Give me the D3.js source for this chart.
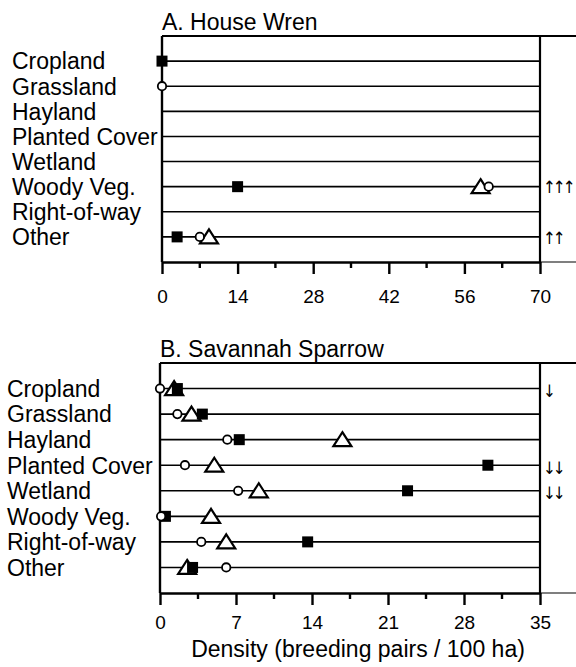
<!DOCTYPE html>
<html>
<head>
<meta charset="utf-8">
<script src="https://cdn.jsdelivr.net/npm/d3@7"></script>
<style>
  body { margin: 0; background: #fff; }
  text { font-family: "Liberation Sans", Arial, sans-serif; fill: #000; }
</style>
</head>
<body>
<svg id="chart" width="576" height="667"></svg>
<script>
const habitats = ["Cropland", "Grassland", "Hayland", "Planted Cover", "Wetland", "Woody Veg.", "Right-of-way", "Other"];

// House Wren densities (null = not plotted)
const wrenSquare = [0, null, null, null, null, 14, null, 2.8];
const wrenCircle = [null, 0, null, null, null, 60.5, null, 7];
const wrenTriangle = [null, null, null, null, null, 59, null, 8.7];
const wrenTrend = ["", "", "", "", "", "\u2191\u2191\u2191", "", "\u2191\u2191"];
const wrenTicks = [0, 14, 28, 42, 56, 70];

// Savannah Sparrow densities
const sparrowSquare = [1.6, 3.9, 7.3, 30.2, 22.8, 0.5, 13.6, 3.0];
const sparrowCircle = [0, 1.6, 6.2, 2.3, 7.2, 0.1, 3.8, 6.1];
const sparrowTriangle = [1.3, 2.9, 16.8, 5.0, 9.1, 4.7, 6.1, 2.5];
const sparrowTrend = ["\u2193", "", "", "\u2193\u2193", "\u2193\u2193", "", "", ""];
const sparrowTicks = [0, 7, 14, 21, 28, 35];

const svg = d3.select("#chart");

function panel(opt) {
  const x = d3.scaleLinear().domain([0, opt.max]).range([opt.left, 540]);
  const y = d3.scalePoint().domain(habitats).range([opt.top, opt.bottom]).padding(1);
  const g = svg.append("g");

  g.append("text")
    .attr("x", opt.left)
    .attr("y", opt.top - 6)
    .style("font-size", "23px")
    .text(opt.title);

  // row labels
  g.selectAll(".lab")
    .data(habitats)
    .enter()
    .append("text")
    .attr("x", opt.labelX)
    .attr("y", d => y(d))
    .attr("dy", "0.36em")
    .style("font-size", "23px")
    .text(d => d);

  // row lines
  g.selectAll(".row")
    .data(habitats)
    .enter()
    .append("line")
    .attr("x1", opt.left)
    .attr("x2", 540)
    .attr("y1", d => y(d))
    .attr("y2", d => y(d))
    .attr("stroke", "#000")
    .attr("stroke-width", 1.6);

  // frame
  g.append("line").attr("x1", opt.left).attr("x2", 576).attr("y1", opt.top).attr("y2", opt.top)
    .attr("stroke", "#000").attr("stroke-width", 2.2);
  g.append("line").attr("x1", 540).attr("x2", 540).attr("y1", opt.top).attr("y2", opt.bottom)
    .attr("stroke", "#000").attr("stroke-width", 2.2);
  g.append("line").attr("x1", opt.left).attr("x2", opt.left).attr("y1", opt.top).attr("y2", opt.bottom)
    .attr("stroke", "#000").attr("stroke-width", 2.4);
  g.append("line").attr("x1", 540).attr("x2", 576).attr("y1", opt.bottom).attr("y2", opt.bottom)
    .attr("stroke", "#000").attr("stroke-width", 1.2);

  // minor ticks
  const step = opt.ticks[1] - opt.ticks[0];
  const minor = opt.ticks.slice(0, -1).map(t => t + step / 2);
  g.selectAll(".minor")
    .data(minor)
    .enter()
    .append("line")
    .attr("x1", d => x(d))
    .attr("x2", d => x(d))
    .attr("y1", opt.bottom)
    .attr("y2", opt.bottom + 6)
    .attr("stroke", "#000")
    .attr("stroke-width", 2.4);

  const axis = d3.axisBottom(x)
    .tickValues(opt.ticks)
    .tickFormat(d3.format("d"))
    .tickSize(12)
    .tickPadding(opt.tickPad)
    .tickSizeOuter(0);
  const ax = g.append("g").attr("transform", "translate(0," + opt.bottom + ")").call(axis);
  ax.select(".domain").attr("stroke-width", 2.4);
  ax.selectAll(".tick line").attr("stroke-width", 2.4);
  ax.selectAll(".tick text")
    .style("font-size", "19px")
    .style("font-family", "Liberation Sans, Arial, sans-serif");

  // markers: triangles, then squares, then circles
  const tri = habitats.map((h, i) => ({ h, v: opt.triangle[i] })).filter(d => d.v != null);
  const sq = habitats.map((h, i) => ({ h, v: opt.square[i] })).filter(d => d.v != null);
  const cir = habitats.map((h, i) => ({ h, v: opt.circle[i] })).filter(d => d.v != null);

  g.selectAll(".tri")
    .data(tri)
    .enter()
    .append("path")
    .attr("d", "M0,-7.5L9,6.5L-9,6.5Z")
    .attr("transform", d => "translate(" + x(d.v) + "," + y(d.h) + ")")
    .attr("fill", "#fff")
    .attr("stroke", "#000")
    .attr("stroke-width", 2.2)
    .attr("stroke-linejoin", "miter");

  g.selectAll(".sq")
    .data(sq)
    .enter()
    .append("rect")
    .attr("x", d => x(d.v) - 5.5)
    .attr("y", d => y(d.h) - 5.5)
    .attr("width", 11)
    .attr("height", 11)
    .attr("fill", "#000");

  g.selectAll(".cir")
    .data(cir)
    .enter()
    .append("circle")
    .attr("cx", d => x(d.v))
    .attr("cy", d => y(d.h))
    .attr("r", 4.2)
    .attr("fill", "#fff")
    .attr("stroke", "#000")
    .attr("stroke-width", 1.8);

  // trend arrows
  g.selectAll(".trend")
    .data(habitats.map((h, i) => ({ h, t: opt.trend[i] })).filter(d => d.t))
    .enter()
    .append("text")
    .attr("x", 543)
    .attr("y", d => y(d.h))
    .attr("dy", opt.arrowDy)
    .style("font-size", "17px")
    .style("font-family", "DejaVu Sans Condensed, DejaVu Sans, sans-serif")
    .style("letter-spacing", "-3px")
    .text(d => d.t);
}

panel({
  title: "A. House Wren", max: 70, ticks: wrenTicks, left: 162, top: 36, bottom: 262,
  labelX: 12, tickPad: 16, arrowDy: "0.4em",
  square: wrenSquare, circle: wrenCircle, triangle: wrenTriangle, trend: wrenTrend
});

panel({
  title: "B. Savannah Sparrow", max: 35, ticks: sparrowTicks, left: 160, top: 363, bottom: 593,
  labelX: 7, tickPad: 11, arrowDy: "0.5em",
  square: sparrowSquare, circle: sparrowCircle, triangle: sparrowTriangle, trend: sparrowTrend
});

svg.append("text")
  .attr("x", 358)
  .attr("y", 657)
  .attr("text-anchor", "middle")
  .style("font-size", "23px")
  .text("Density (breeding pairs / 100 ha)");
</script>
</body>
</html>
